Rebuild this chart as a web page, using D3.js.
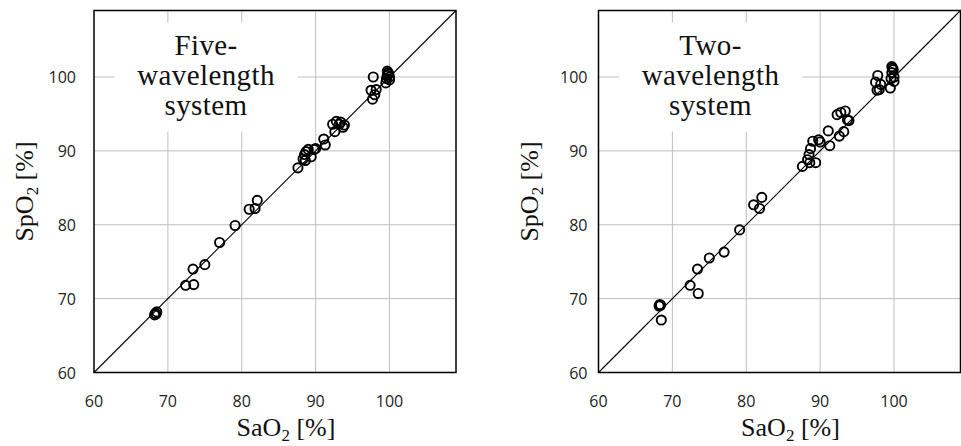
<!DOCTYPE html>
<html>
<head>
<meta charset="utf-8">
<script src="https://cdn.jsdelivr.net/npm/d3@7"></script>
<style>
  body { margin: 0; background: #fff; }
  svg { display: block; }
</style>
</head>
<body>
<div id="chart"></div>
<script>
// reference SaO2 values (same samples for both systems)
const saO2 = [68.2, 68.3, 68.5, 68.4, 72.4, 73.5, 73.4, 75.0, 77.0, 79.1, 81.0, 81.8, 82.1,
  87.6, 88.3, 88.5, 88.7, 88.6, 89.0, 89.4, 89.8, 90.0, 91.1, 91.3,
  92.3, 92.6, 92.8, 93.2, 93.4, 93.7, 93.9,
  97.5, 97.7, 97.8, 98.0, 98.2, 99.5, 99.6, 99.7, 99.8, 99.9, 100.0, 99.7, 100.0];
// SpO2 from the five-wavelength system
const spO2Five = [67.8, 68.0, 68.2, 67.9, 71.8, 71.9, 74.0, 74.6, 77.6, 79.9, 82.1, 82.2, 83.3,
  87.7, 88.9, 89.5, 89.9, 88.7, 90.2, 89.2, 90.2, 90.3, 91.6, 90.8,
  93.6, 92.6, 94.0, 93.6, 93.9, 93.2, 93.5,
  98.2, 97.0, 100.0, 97.6, 98.3, 99.2, 99.8, 100.2, 100.6, 100.4, 99.6, 100.8, 100.0];
// SpO2 from the two-wavelength system
const spO2Two = [69.0, 69.2, 67.1, 69.1, 71.8, 70.7, 74.0, 75.5, 76.3, 79.3, 82.7, 82.2, 83.7,
  87.9, 88.8, 89.5, 90.3, 88.4, 91.3, 88.4, 91.5, 91.2, 92.7, 90.7,
  94.9, 92.0, 95.2, 92.6, 95.4, 94.2, 94.1,
  99.3, 98.2, 100.2, 98.3, 99.0, 98.5, 99.8, 100.6, 101.2, 101.0, 100.0, 101.4, 99.4];
const tickValues = [60, 70, 80, 90, 100];
const gridValues = [70, 80, 90, 100];
const fiveTitle = ['Five-', 'wavelength', 'system'];
const twoTitle = ['Two-', 'wavelength', 'system'];

const width = 961, height = 446;
const size = 362;
const svg = d3.select('#chart').append('svg')
    .attr('width', width)
    .attr('height', height);

const x = d3.scaleLinear().domain([60, 109]).range([0, size]);
const y = d3.scaleLinear().domain([60, 109]).range([size, 0]);

function drawPanel(left, top, spo2, titleLines, labelGap) {
    const g = svg.append('g').attr('transform', `translate(${left},${top})`);

    // grid
    g.selectAll('.gx').data(gridValues).enter().append('line')
        .attr('x1', d => x(d)).attr('x2', d => x(d))
        .attr('y1', 0).attr('y2', size)
        .attr('stroke', '#bfbfbf').attr('stroke-width', 1);
    g.selectAll('.gy').data(gridValues).enter().append('line')
        .attr('y1', d => y(d)).attr('y2', d => y(d))
        .attr('x1', 0).attr('x2', size)
        .attr('stroke', '#bfbfbf').attr('stroke-width', 1);

    // white box behind the title text
    g.append('rect')
        .attr('x', 21).attr('y', 12)
        .attr('width', 183).attr('height', 109)
        .attr('fill', '#fff');
    const t = g.append('text')
        .attr('text-anchor', 'middle')
        .style('font-family', '"Liberation Serif", serif')
        .style('font-size', '29px')
        .style('letter-spacing', '0.4px')
        .attr('fill', '#111');
    titleLines.forEach((s, i) => {
        t.append('tspan').attr('x', 112).attr('y', 44 + i * 30).text(s);
    });

    // identity line
    g.append('line')
        .attr('x1', x(60)).attr('y1', y(60))
        .attr('x2', x(109)).attr('y2', y(109))
        .attr('stroke', '#000').attr('stroke-width', 1.1);

    // points
    g.selectAll('circle').data(saO2).enter().append('circle')
        .attr('cx', d => x(d))
        .attr('cy', (d, i) => y(spo2[i]))
        .attr('r', 4.6)
        .attr('fill', 'none')
        .attr('stroke', '#000')
        .attr('stroke-width', 1.9);

    // frame
    g.append('rect')
        .attr('width', size).attr('height', size)
        .attr('fill', 'none')
        .attr('stroke', '#000').attr('stroke-width', 1.5);

    // tick labels
    g.selectAll('.xl').data(tickValues).enter().append('text')
        .attr('x', d => x(d)).attr('y', size + 34)
        .attr('text-anchor', 'middle')
        .style('font-family', '"Open Sans", sans-serif')
        .style('font-size', '16px')
        .attr('fill', '#222')
        .text(d => d);
    g.selectAll('.yl').data(tickValues).enter().append('text')
        .attr('x', -labelGap).attr('y', d => y(d) + 6)
        .attr('text-anchor', 'end')
        .style('font-family', '"Open Sans", sans-serif')
        .style('font-size', '16px')
        .attr('fill', '#222')
        .text(d => d);

    // axis titles
    const xt = g.append('text')
        .attr('x', 192).attr('y', size + 63)
        .attr('text-anchor', 'middle')
        .style('font-family', '"Liberation Serif", serif')
        .style('font-size', '26px')
        .attr('fill', '#111');
    xt.append('tspan').text('SaO');
    xt.append('tspan').attr('dy', 5).style('font-size', '17px').text('2');
    xt.append('tspan').attr('dy', -5).text(' [%]');

    const yt = g.append('text')
        .attr('transform', `translate(-61,${size / 2}) rotate(-90)`)
        .attr('text-anchor', 'middle')
        .style('font-family', '"Liberation Serif", serif')
        .style('font-size', '26px')
        .attr('fill', '#111');
    yt.append('tspan').text('SpO');
    yt.append('tspan').attr('dy', 5).style('font-size', '17px').text('2');
    yt.append('tspan').attr('dy', -5).text(' [%]');
}

drawPanel(94, 10.5, spO2Five, fiveTitle, 18);
drawPanel(598.5, 10.5, spO2Two, twoTitle, 11);
</script>
</body>
</html>
